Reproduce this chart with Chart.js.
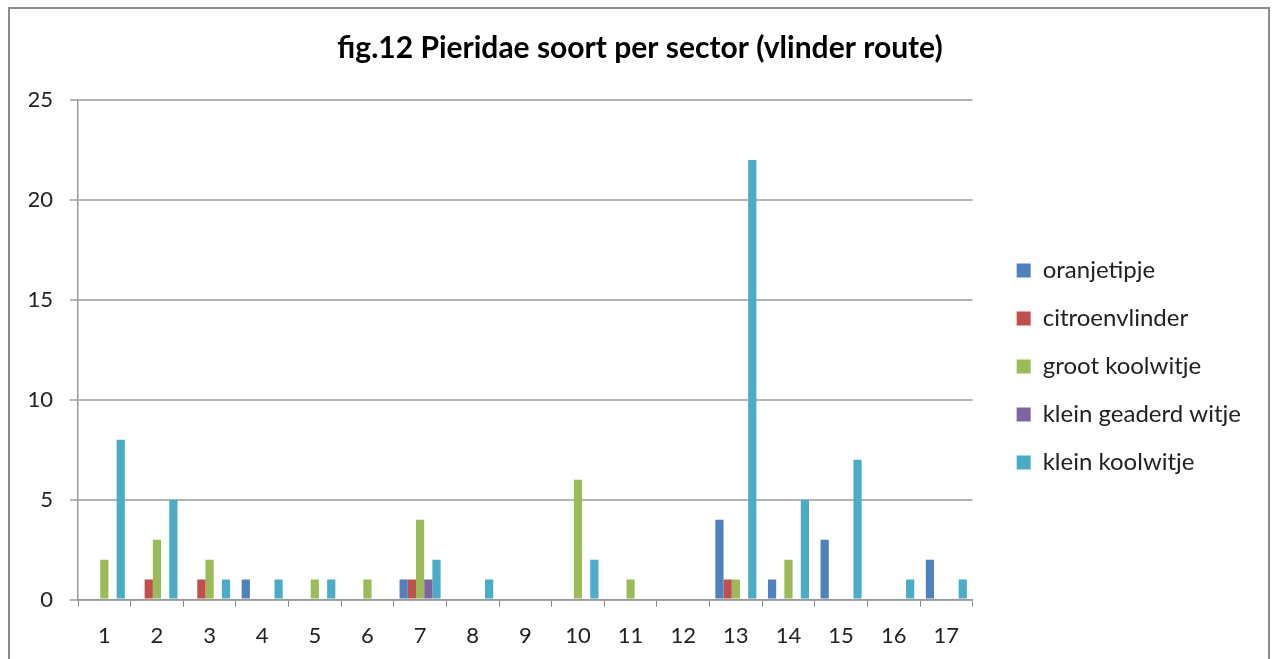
<!DOCTYPE html>
<html>
<head>
<meta charset="utf-8">
<script src="https://cdn.jsdelivr.net/npm/chart.js@4.4.1/dist/chart.umd.min.js"></script>
<style>
  html, body { margin: 0; padding: 0; background: #fff; overflow: hidden; width: 1273px; height: 659px; }
  #frame { position: absolute; left: 8px; top: 7px; width: 1262px; height: 700px; border: 2px solid #8c8c8c; box-sizing: border-box; }
  #wrap { position: absolute; left: 0; top: 0; width: 1273px; height: 680px; }
</style>
</head>
<body>
<div id="frame"></div>
<div id="wrap"><canvas id="c" width="1273" height="680"></canvas></div>
<script>
const sectors = ['1','2','3','4','5','6','7','8','9','10','11','12','13','14','15','16','17'];
const yTicks = [0, 5, 10, 15, 20, 25];
const seriesNames = ['oranjetipje', 'citroenvlinder', 'groot koolwitje', 'klein geaderd witje', 'klein koolwitje'];
const oranjetipje       = [0, 0, 0, 1, 0, 0, 1, 0, 0, 0, 0, 0, 4, 1, 3, 0, 2];
const citroenvlinder    = [0, 1, 1, 0, 0, 0, 1, 0, 0, 0, 0, 0, 1, 0, 0, 0, 0];
const grootKoolwitje    = [2, 3, 2, 0, 1, 1, 4, 0, 0, 6, 1, 0, 1, 2, 0, 0, 0];
const kleinGeaderdWitje = [0, 0, 0, 0, 0, 0, 1, 0, 0, 0, 0, 0, 0, 0, 0, 0, 0];
const kleinKoolwitje    = [8, 5, 1, 1, 1, 0, 2, 1, 0, 2, 0, 0, 22, 5, 7, 1, 1];
const colors = ['#4F81BD', '#C0504D', '#9BBB59', '#8064A2', '#4BACC6'];
const values = [oranjetipje, citroenvlinder, grootKoolwitje, kleinGeaderdWitje, kleinKoolwitje];

const FONT = 'Lato, "Open Sans", sans-serif';

new Chart(document.getElementById('c'), {
  type: 'bar',
  data: {
    labels: sectors,
    datasets: seriesNames.map((n, i) => ({
      label: n,
      data: values[i],
      backgroundColor: colors[i],
      borderWidth: 0,
      categoryPercentage: 0.78,
      barPercentage: 1.0
    }))
  },
  options: {
    responsive: false,
    animation: false,
    layout: { padding: { left: 29, right: 22, top: 10, bottom: 15 } },
    plugins: {
      title: {
        display: true,
        text: 'fig.12 Pieridae soort per sector (vlinder route)',
        font: { family: FONT, size: 30, weight: 'bold' },
        color: '#000',
        padding: { top: 20, bottom: 34 }
      },
      legend: {
        position: 'right',
        maxWidth: 400,
        title: { display: true, text: ' ', padding: 17, font: { size: 20 } },
        labels: {
          boxWidth: 14,
          boxHeight: 14,
          padding: 24,
          color: '#222',
          font: { family: FONT, size: 24 }
        }
      },
      tooltip: { enabled: false }
    },
    scales: {
      x: {
        offset: true,
        grid: { display: true, offset: true, drawOnChartArea: false, drawTicks: true, tickLength: 7, color: '#888' },
        border: { display: true, color: '#999', width: 1.5 },
        ticks: { color: '#222', font: { family: FONT, size: 22 }, padding: 16, maxRotation: 0, autoSkip: false }
      },
      y: {
        min: 0,
        max: 25,
        afterBuildTicks: (axis) => { axis.ticks = yTicks.map(v => ({ value: v })); },
        afterFit: (s) => { s.width = 49; },
        grid: { color: '#b5b5b5', lineWidth: 2, tickLength: 8, drawTicks: true },
        border: { display: true, color: '#999', width: 1.5 },
        ticks: { color: '#222', font: { family: FONT, size: 22 }, padding: 17 }
      },
      gap: {
        position: 'right',
        min: 0,
        max: 25,
        display: true,
        grid: { display: false },
        border: { display: false },
        ticks: { display: false },
        afterFit: (s) => { s.width = 20; }
      }
    }
  }
});
</script>
</body>
</html>
